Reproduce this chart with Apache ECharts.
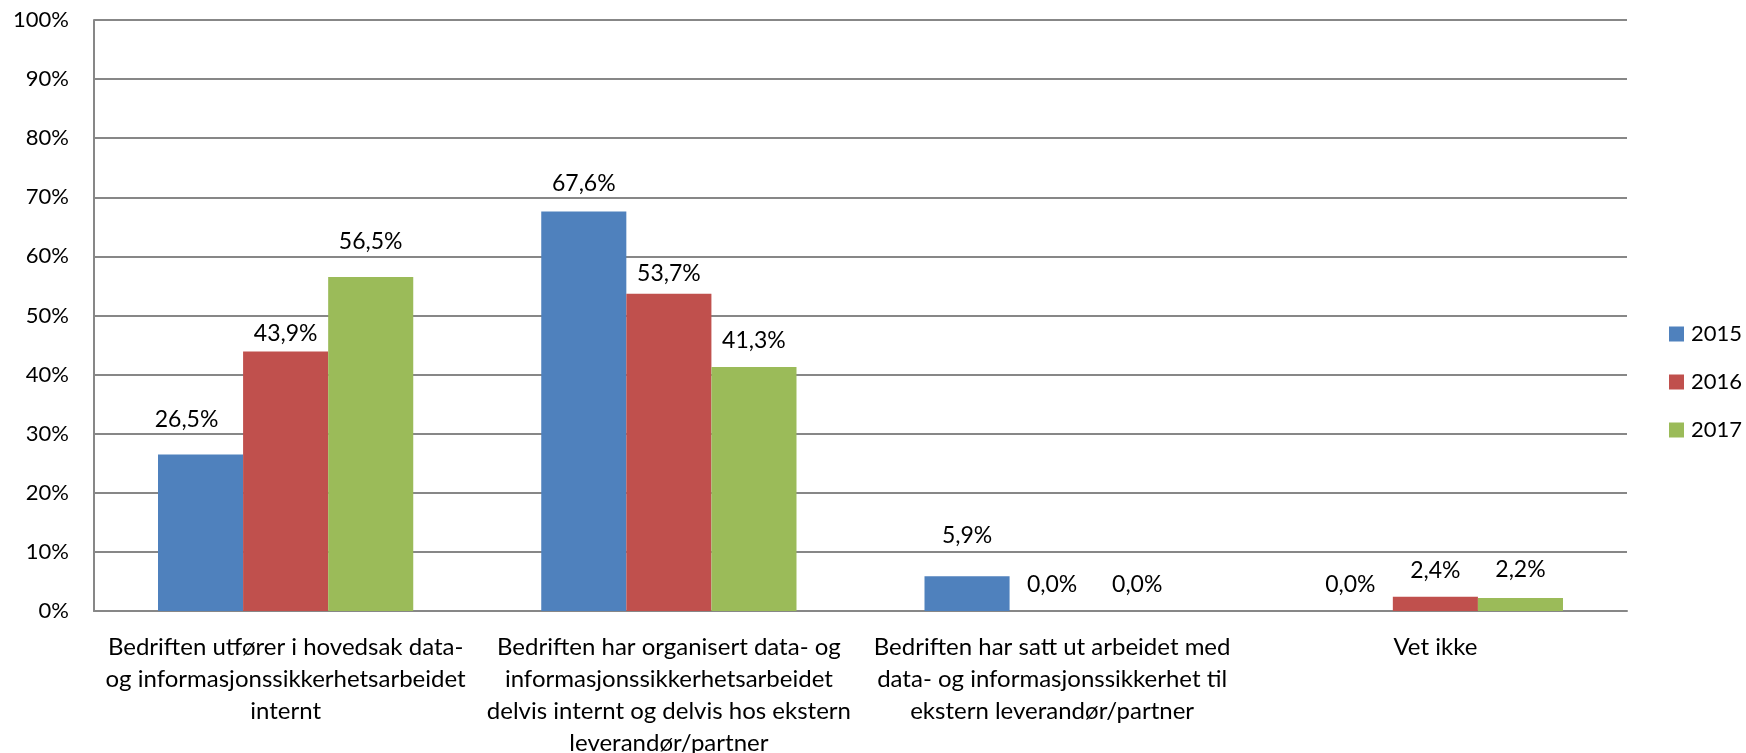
<!DOCTYPE html>
<html>
<head>
<meta charset="utf-8">
<script src="https://cdn.jsdelivr.net/npm/echarts@6/dist/echarts.min.js"></script>
<style>
html,body{margin:0;padding:0;background:#fff;}
#chart{width:1746px;height:753px;}
</style>
</head>
<body>
<div id="chart"></div>
<script>
// ---- data ----
const categories = [
  'Bedriften utfører i hovedsak data-\nog informasjonssikkerhetsarbeidet\ninternt',
  'Bedriften har organisert data- og\ninformasjonssikkerhetsarbeidet\ndelvis internt og delvis hos ekstern\nleverandør/partner',
  'Bedriften har satt ut arbeidet med\ndata- og informasjonssikkerhet til\nekstern leverandør/partner',
  'Vet ikke'
];
const seriesNames = ['2015', '2016', '2017'];
const values2015 = [26.5, 67.6, 5.9, 0.0];
const values2016 = [43.9, 53.7, 0.0, 2.4];
const values2017 = [56.5, 41.3, 0.0, 2.2];

// ---- styling ----
const colors = ['#4F81BD', '#C0504D', '#9BBB59'];
// small label nudges [dx, dy] per series / category (as placed in the original)
const labelNudges = [
  [[-14, -8], [0, -1.5], [0, -14], [0, 0]],
  [[0, 9], [0, 6.5], [0, 0], [0, 0]],
  [[0, -9], [0, 0], [0, 0], [0, -1.5]]
];
const FONT = 'Lato';
const allValues = [values2015, values2016, values2017];

const chart = echarts.init(document.getElementById('chart'), null, {renderer: 'canvas'});

const series = seriesNames.map((name, si) => ({
  name: name,
  type: 'bar',
  barGap: '0%',
  barCategoryGap: '33.4%',
  itemStyle: {color: colors[si]},
  data: allValues[si].map((v, ci) => ({
    value: v,
    label: {offset: labelNudges[si][ci]}
  })),
  label: {
    show: true,
    position: 'top',
    distance: 15,
    fontFamily: FONT,
    fontSize: 23,
    color: '#000',
    formatter: p => p.value.toFixed(1).replace('.', ',') + '%'
  }
}));

chart.setOption({
  animation: false,
  backgroundColor: '#fff',
  textStyle: {fontFamily: FONT},
  grid: {left: 94, right: 119, top: 20, bottom: 142, containLabel: false, outerBoundsMode: 'none'},
  legend: {
    orient: 'vertical',
    left: 1669,
    top: 323,
    padding: 0,
    itemWidth: 15,
    itemHeight: 15,
    itemGap: 26,
    icon: 'rect',
    textStyle: {fontFamily: FONT, fontSize: 22, color: '#000', padding: [0, 0, 0, 2]},
    data: seriesNames
  },
  xAxis: {
    type: 'category',
    data: categories,
    axisLine: {lineStyle: {color: '#878787', width: 2}},
    axisTick: {show: false},
    axisLabel: {
      interval: 0,
      margin: 20,
      fontFamily: FONT,
      fontSize: 24,
      lineHeight: 32,
      color: '#000',
      align: 'center'
    }
  },
  yAxis: {
    type: 'value',
    min: 0,
    max: 100,
    interval: 10,
    axisLine: {show: true, lineStyle: {color: '#878787', width: 2}},
    axisTick: {show: false},
    splitLine: {lineStyle: {color: '#878787', width: 2}},
    axisLabel: {
      margin: 25,
      fontFamily: FONT,
      fontSize: 22,
      color: '#000',
      formatter: '{value}%'
    }
  },
  series: series
});
</script>
</body>
</html>
